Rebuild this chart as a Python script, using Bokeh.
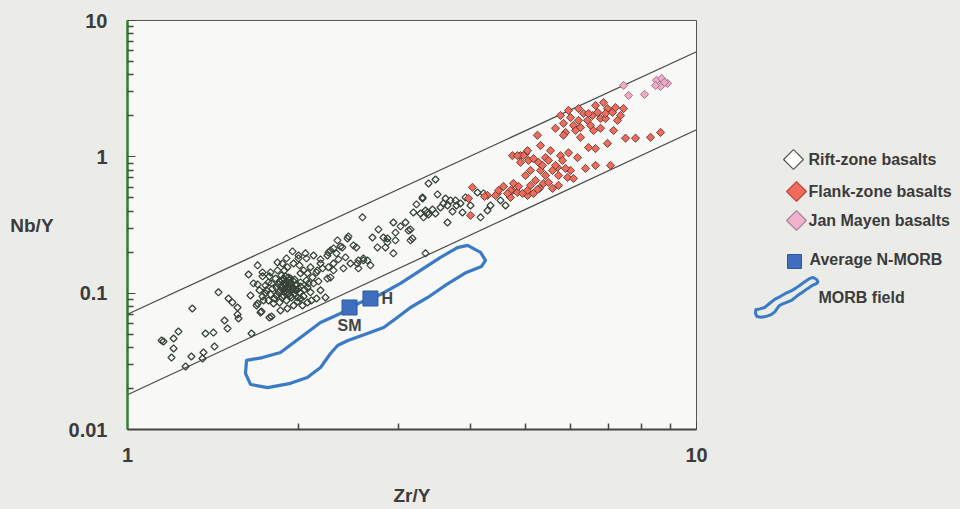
import math
from bokeh.plotting import figure
from bokeh.models import Range1d, FixedTicker, Label, CustomJSTickFormatter
from bokeh.layouts import row
from bokeh.embed import file_html
from bokeh.resources import INLINE

# ---------------- data ----------------
rift_zr_y = [1.148, 1.157, 1.205, 1.229, 1.205, 1.195, 1.265, 1.295, 1.300, 1.355,
             1.360, 1.371, 1.416, 1.422, 1.445, 1.481, 1.499, 1.505, 1.529, 1.561,
             1.561, 1.567, 1.652, 1.632, 1.645, 1.693, 1.693, 1.693, 1.713, 1.776,
             1.748, 1.665, 1.686, 1.720, 1.769, 1.791, 1.835, 1.806, 1.857, 1.910,
             1.958, 1.990, 1.910, 1.950, 1.998, 2.055, 2.123, 2.184, 2.255, 2.302,
             2.367, 2.436, 2.495, 2.598, 2.535, 2.302, 2.246, 2.184, 2.228, 2.123,
             2.072, 2.072, 2.014, 1.872, 1.895, 1.918, 1.887, 1.934, 1.950, 1.910,
             1.857, 1.842, 1.974, 1.880, 1.934, 1.982, 1.827, 1.798, 1.769, 1.820,
             1.864, 1.918, 1.966, 2.014, 2.006, 2.039, 1.903, 1.850, 1.784, 1.748,
             1.727, 1.784, 1.887, 2.063, 2.097, 2.149, 2.030, 1.926, 1.895, 1.942,
             2.588, 3.300, 3.181, 2.933, 2.761, 2.695, 2.750, 2.840, 2.933, 2.817,
             2.863, 2.958, 2.958, 3.080, 3.143, 3.168, 3.313, 3.367, 2.339, 2.445,
             2.525, 2.386, 2.274, 2.246, 2.329, 2.348, 2.416, 2.465, 2.546, 2.598,
             2.640, 2.673, 2.546, 2.396, 2.302, 2.063, 1.998, 2.184, 2.255, 2.274,
             2.157, 2.097, 2.039, 1.872, 1.727, 3.340, 3.381, 3.478, 3.506, 3.300,
             3.220, 3.273, 3.340, 3.381, 3.436, 3.478, 3.549, 3.592, 3.696, 3.771,
             3.726, 3.651, 3.879, 3.848, 3.927, 4.122, 4.224, 4.292, 4.173, 3.118,
             3.018, 2.863, 3.143, 3.651, 3.786, 3.622, 4.524, 4.617, 4.345, 4.007,
             1.880, 1.903, 1.926, 1.950, 1.974, 1.864, 1.887, 1.918, 1.942, 1.842,
             1.827, 1.850, 1.958, 1.982, 1.998, 1.895, 1.934, 1.872, 1.910, 1.880,
             1.966, 2.014, 1.990, 1.813, 1.791, 1.755, 1.734, 2.014, 2.047, 2.080,
             2.114, 2.149, 2.202, 2.166, 2.105, 2.072, 2.006, 1.958, 1.903, 1.835,
             1.776, 1.706, 1.727]
rift_nb_y = [0.0450, 0.0442, 0.0465, 0.0523, 0.0393, 0.0337, 0.0290, 0.0343, 0.0772, 0.0332,
             0.0367, 0.0506, 0.0514, 0.0406, 0.1015, 0.0630, 0.0550, 0.0914, 0.0855, 0.0785,
             0.0698, 0.0652, 0.0506, 0.137, 0.0962, 0.160, 0.116, 0.0840, 0.0722, 0.0663,
             0.0998, 0.118, 0.0812, 0.0734, 0.0884, 0.0674, 0.168, 0.0840, 0.0747, 0.0772,
             0.0812, 0.0930, 0.155, 0.2025, 0.180, 0.196, 0.189, 0.165, 0.199, 0.213,
             0.220, 0.252, 0.224, 0.174, 0.165, 0.147, 0.128, 0.105, 0.0930, 0.118,
             0.110, 0.140, 0.140, 0.124, 0.118, 0.112, 0.108, 0.120, 0.1065, 0.1015,
             0.105, 0.116, 0.114, 0.0962, 0.0962, 0.105, 0.0962, 0.108, 0.120, 0.128,
             0.135, 0.1305, 0.126, 0.120, 0.1015, 0.0946, 0.0884, 0.0855, 0.0981, 0.114,
             0.133, 0.142, 0.147, 0.124, 0.1015, 0.0914, 0.0812, 0.124, 0.114, 0.114,
             0.360, 0.504, 0.391, 0.330, 0.2935, 0.256, 0.2165, 0.2165, 0.196, 0.256,
             0.236, 0.244, 0.278, 0.330, 0.2935, 0.252, 0.360, 0.391, 0.244, 0.261,
             0.2165, 0.2165, 0.206, 0.189, 0.196, 0.177, 0.183, 0.165, 0.174, 0.180,
             0.174, 0.160, 0.152, 0.152, 0.165, 0.180, 0.189, 0.177, 0.155, 0.1305,
             0.147, 0.155, 0.147, 0.165, 0.142, 0.196, 0.638, 0.682, 0.530, 0.495,
             0.448, 0.384, 0.404, 0.378, 0.411, 0.384, 0.425, 0.455, 0.479, 0.479,
             0.397, 0.330, 0.391, 0.455, 0.504, 0.548, 0.539, 0.404, 0.360, 0.288,
             0.309, 0.252, 0.244, 0.440, 0.440, 0.495, 0.479, 0.440, 0.440, 0.440,
             0.128, 0.122, 0.116, 0.110, 0.105, 0.112, 0.103, 0.098, 0.093, 0.1015,
             0.110, 0.122, 0.122, 0.116, 0.108, 0.133, 0.128, 0.093, 0.1065, 0.118,
             0.098, 0.0914, 0.087, 0.0914, 0.118, 0.105, 0.0884, 0.112, 0.1065, 0.118,
             0.1305, 0.142, 0.152, 0.122, 0.0884, 0.0855, 0.160, 0.165, 0.180, 0.147,
             0.133, 0.105, 0.0946]

flank_zr_y = [4.039, 3.975, 4.292, 4.470, 4.749, 4.768, 4.846, 5.047, 4.711, 4.007,
              4.906, 5.006, 4.749, 5.838, 6.006, 6.079, 5.886, 5.838, 6.204, 6.330,
              6.434, 6.566, 6.700, 6.782, 6.920, 6.976, 7.119, 7.206, 7.444, 6.920,
              6.460, 5.254, 7.148, 7.504, 7.814, 8.303, 8.646, 6.976, 6.646, 6.460,
              5.958, 6.179, 5.768, 5.815, 5.428, 5.047, 4.966, 4.846, 5.067, 5.276,
              5.319, 5.584, 5.698, 5.721, 5.934, 6.006, 6.079, 6.382, 6.646, 7.062,
              5.108, 5.212, 5.384, 5.494, 5.584, 5.297, 5.108, 5.047, 5.721, 4.579,
              4.866, 4.946, 4.711, 4.654, 4.434, 4.488, 4.241, 5.254, 6.129, 5.652,
              6.254, 6.513, 7.354,
              5.170, 5.362, 5.494, 5.652, 4.906, 5.006, 5.428, 5.886, 5.539, 5.319,
              5.768, 5.958, 6.204, 6.646, 6.865, 7.264, 6.592, 6.782, 6.254, 5.170]
flank_nb_y = [0.597, 0.495, 0.521, 0.539, 0.567, 0.638, 0.548, 0.521, 0.504, 0.372,
              1.02, 1.055, 1.02, 1.76, 1.94, 1.70, 1.51, 1.44, 1.85, 2.08,
              1.85, 2.01, 2.12, 1.91, 1.91, 2.26, 2.12, 2.30, 2.26, 2.08,
              2.08, 1.44, 1.56, 1.37, 1.37, 1.39, 1.51, 1.255, 1.15, 1.17,
              1.07, 0.986, 1.02, 0.941, 0.986, 1.11, 1.02, 1.02, 0.941, 0.910,
              0.795, 0.795, 0.836, 0.730, 0.706, 0.795, 0.694, 0.822, 0.865, 0.865,
              0.795, 0.671, 0.638, 0.649, 0.587, 0.587, 0.617, 0.567, 0.617, 0.607,
              0.607, 0.539, 0.567, 0.539, 0.521, 0.567, 0.512, 0.577, 1.56, 1.62,
              1.64, 1.70, 2.01,
              0.970, 0.865, 0.941, 0.865, 0.910, 0.730, 0.730, 0.822, 1.11, 1.21,
              2.01, 2.19, 2.26, 2.38, 2.50, 1.85, 1.56, 1.62, 1.39, 0.539]

jan_mayen_zr_y = [7.444, 7.596, 8.104, 8.507, 8.681, 8.894, 8.646, 8.787, 8.473]
jan_mayen_nb_y = [3.34, 2.82, 2.87, 3.64, 3.76, 3.46, 3.28, 3.52, 3.34]

nmorb_names = ["SM", "H"]
nmorb_zr_y = [2.456, 2.673]
nmorb_nb_y = [0.0785, 0.0914]

morb_field_zr_y = [1.619, 1.727, 1.857, 2.014, 2.184, 2.367, 2.567, 2.783, 3.018, 3.273,
                   3.549, 3.80, 3.96, 4.173, 4.258, 4.19, 3.94, 3.64, 3.37, 3.143,
                   2.98, 2.82, 2.64, 2.44, 2.34, 2.274, 2.184, 2.07, 1.934, 1.762,
                   1.645, 1.612]
morb_field_nb_y = [0.0321, 0.0337, 0.0367, 0.0473, 0.0610, 0.0710, 0.0855, 0.0978, 0.118, 0.147,
                   0.183, 0.216, 0.224, 0.199, 0.174, 0.157, 0.142, 0.116, 0.0930, 0.0785,
                   0.0663, 0.0560, 0.0506, 0.0450, 0.0413, 0.0361, 0.0285, 0.0241, 0.0218, 0.0203,
                   0.0214, 0.0258]

# boundary lines of the array
bound_zr_y = [1, 10]
upper_nb_y = [0.070, 5.9]
lower_nb_y = [0.018, 1.58]

x_major = [1, 10]
x_minor = [2, 3, 4, 5, 6, 7, 8, 9]
y_major = [0.01, 0.1, 1, 10]
y_minor = [0.02, 0.03, 0.04, 0.05, 0.06, 0.07, 0.08, 0.09,
           0.2, 0.3, 0.4, 0.5, 0.6, 0.7, 0.8, 0.9,
           2, 3, 4, 5, 6, 7, 8, 9]

legend_labels = ["Rift-zone basalts", "Flank-zone basalts", "Jan Mayen basalts",
                 "Average N-MORB", "MORB field"]

# ---------------- styles ----------------
FONT = "Liberation Sans"
TXT = "#3b3b3b"
OUTER = "#ebebe8"
INNER = "#f8f8f7"
MORB_BLUE = "#3b7bc6"
SQ_BLUE = "#3e6ebd"
FLANK = "#ef6c5c"
JM = "#f1a9c7"
RIFT_LINE = "#364236"
D = math.pi / 4

p = figure(width=716, height=509, x_axis_type="log", y_axis_type="log",
           x_range=Range1d(1, 10), y_range=Range1d(0.01, 10),
           output_backend="svg", toolbar_location=None,
           min_border_left=127, min_border_right=20,
           min_border_top=20, min_border_bottom=80)
p.background_fill_color = INNER
p.border_fill_color = OUTER
p.outline_line_color = "#555555"
p.outline_line_width = 1
p.xgrid.visible = False
p.ygrid.visible = False

fmt = CustomJSTickFormatter(code="return tick.toString();")

xa = p.xaxis[0]
xa.ticker = FixedTicker(ticks=x_major, minor_ticks=x_minor)
xa.formatter = fmt
xa.axis_line_color = "#454545"
xa.axis_line_width = 2
xa.major_tick_in = 7
xa.major_tick_out = 0
xa.minor_tick_in = 6
xa.minor_tick_out = 0
xa.major_tick_line_color = "#454545"
xa.minor_tick_line_color = "#454545"
xa.minor_tick_line_width = 1.5
xa.major_label_standoff = 18
xa.major_label_text_font = FONT
xa.major_label_text_font_style = "bold"
xa.major_label_text_font_size = "20px"
xa.major_label_text_color = TXT
xa.axis_label = "Zr/Y"
xa.axis_label_text_font = FONT
xa.axis_label_text_font_style = "bold"
xa.axis_label_text_font_size = "19px"
xa.axis_label_text_color = TXT
xa.axis_label_standoff = 20

ya = p.yaxis[0]
ya.ticker = FixedTicker(ticks=y_major, minor_ticks=y_minor)
ya.formatter = fmt
ya.axis_line_color = "#2f7f34"
ya.axis_line_width = 2.5
ya.major_tick_in = 8
ya.major_tick_out = 0
ya.minor_tick_in = 6
ya.minor_tick_out = 0
ya.major_tick_line_color = "#454545"
ya.minor_tick_line_color = "#454545"
ya.minor_tick_line_width = 1.3
ya.major_label_standoff = 20
ya.major_label_text_font = FONT
ya.major_label_text_font_style = "bold"
ya.major_label_text_font_size = "20px"
ya.major_label_text_color = TXT
ya.axis_label_orientation = "horizontal"
ya.axis_label = "Nb/Y"
ya.axis_label_text_font = FONT
ya.axis_label_text_font_style = "bold"
ya.axis_label_text_font_size = "19px"
ya.axis_label_text_color = TXT
ya.axis_label_standoff = 12

# boundary lines
p.line(bound_zr_y, upper_nb_y, line_color="#4a4a4a", line_width=1.2)
p.line(bound_zr_y, lower_nb_y, line_color="#4a4a4a", line_width=1.2)

# MORB field
p.patch(morb_field_zr_y, morb_field_nb_y, fill_color=None, line_color=MORB_BLUE,
        line_width=3.2, line_join="round")

# data
p.scatter(rift_zr_y, rift_nb_y, marker="square", angle=D, size=5.0,
          fill_alpha=0, line_color=RIFT_LINE, line_width=1.25)
p.scatter(flank_zr_y, flank_nb_y, marker="square", angle=D, size=5.8,
          fill_color=FLANK, line_color="#5b3a33", line_width=0.9)
p.scatter(jan_mayen_zr_y, jan_mayen_nb_y, marker="square", angle=D, size=5.8,
          fill_color=JM, line_color="#8a6f7c", line_width=0.9)

p.scatter(nmorb_zr_y, nmorb_nb_y, marker="square", size=15,
          fill_color=SQ_BLUE, line_color="#2d5a9e", line_width=1)
p.add_layout(Label(x=nmorb_zr_y[0], y=nmorb_nb_y[0], text=nmorb_names[0], y_offset=-10,
                   text_align="center", text_baseline="top", text_font=FONT,
                   text_font_style="bold", text_font_size="16px", text_color="#444444"))
p.add_layout(Label(x=nmorb_zr_y[1], y=nmorb_nb_y[1], text=nmorb_names[1], x_offset=11,
                   text_align="left", text_baseline="middle", text_font=FONT,
                   text_font_style="bold", text_font_size="16px", text_color="#444444"))

# ---------------- legend panel (its frame lines up with the plot frame: y 20..429 px) ----------------
q = figure(width=244, height=509, x_range=Range1d(716, 960), y_range=Range1d(429, 20),
           output_backend="svg", toolbar_location=None,
           x_axis_location=None, y_axis_location=None,
           min_border_left=0, min_border_right=0, min_border_top=20, min_border_bottom=80)
q.background_fill_color = OUTER
q.border_fill_color = OUTER
q.outline_line_color = None
q.grid.visible = False
q.xgrid.visible = False
q.ygrid.visible = False

q.scatter([793], [159], marker="square", angle=D, size=14, fill_color="#ffffff",
          line_color="#555555", line_width=1.2)
q.scatter([796], [191], marker="square", angle=D, size=14, fill_color="#f26a5a",
          line_color="#b8483c", line_width=1.2)
q.scatter([796], [220], marker="square", angle=D, size=14, fill_color="#f2b1cc",
          line_color="#a08595", line_width=1.2)
q.scatter([794], [261], marker="square", size=14, fill_color=SQ_BLUE,
          line_color="#2d5a9e", line_width=1)

# MORB field icon: the field outline, shrunk
lx = [math.log10(v) for v in morb_field_zr_y]
ly = [math.log10(v) for v in morb_field_nb_y]
icon_x = [755 + (v - min(lx)) * 569 * 0.26 for v in lx]
icon_y = [277 + (max(ly) - v) * 136.3 * 0.28 for v in ly]
q.patch(icon_x, icon_y, fill_color=None, line_color=MORB_BLUE, line_width=3, line_join="round")

leg_pos = [(808, 159), (808, 191), (808, 220), (809, 259), (818, 297)]
for (lxp, lyp), t in zip(leg_pos, legend_labels):
    q.add_layout(Label(x=lxp, y=lyp, text=t, text_align="left", text_baseline="middle",
                       text_font=FONT, text_font_style="bold", text_font_size="16px",
                       text_color=TXT))

layout = row(p, q, styles={"background-color": OUTER})
open("out.html", "w").write(file_html(layout, INLINE))
